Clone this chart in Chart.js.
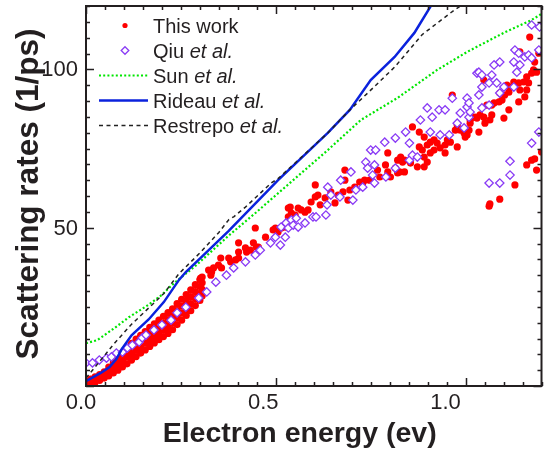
<!DOCTYPE html>
<html>
<head>
<meta charset="utf-8">
<script src="https://cdn.jsdelivr.net/npm/chart.js@4"></script>
<style>
  html, body { margin: 0; padding: 0; background: #fff; }
  canvas { display: block; }
</style>
</head>
<body>
<canvas id="rateChart" width="547" height="450"></canvas>
<script>
// axis labels
const xTickValues = [0, 0.5, 1.0];
const yTickValues = [50, 100];
const xTitle = 'Electron energy (ev)';
const yTitle = 'Scattering rates (1/ps)';

// [energy (eV), rate (1/ps)]
const thisWork = [
  // dense low-energy band
  [0.000, 0.5], [0.000, 1.5],
  [0.012, 0.8], [0.012, 2.2],
  [0.024, 1.2], [0.024, 2.9],
  [0.036, 1.8], [0.036, 3.6],
  [0.048, 2.5], [0.048, 4.5],
  [0.060, 3.2], [0.060, 4.6], [0.060, 6.0],
  [0.072, 4.1], [0.072, 5.6], [0.072, 7.3],
  [0.084, 5.0], [0.084, 6.8], [0.084, 8.6],
  [0.096, 6.0], [0.096, 8.0], [0.096, 10.0],
  [0.108, 7.0], [0.108, 9.1], [0.108, 11.2],
  [0.120, 8.2], [0.120, 10.2], [0.120, 12.2], [0.120, 13.5],
  [0.132, 9.3], [0.132, 11.3], [0.132, 13.3], [0.132, 14.8],
  [0.144, 10.4], [0.144, 12.4], [0.144, 14.4], [0.144, 16.0],
  [0.156, 11.4], [0.156, 13.5], [0.156, 15.5], [0.156, 17.2],
  [0.168, 12.5], [0.168, 14.6], [0.168, 16.6], [0.168, 18.5],
  [0.180, 13.6], [0.180, 15.6], [0.180, 17.6], [0.180, 19.6],
  [0.192, 14.6], [0.192, 16.6], [0.192, 18.6], [0.192, 20.8],
  [0.204, 15.6], [0.204, 17.7], [0.204, 19.8], [0.204, 22.0],
  [0.216, 16.6], [0.216, 18.8], [0.216, 21.0], [0.216, 23.2],
  [0.228, 17.8], [0.228, 20.0], [0.228, 22.2], [0.228, 24.4],
  [0.240, 19.4], [0.240, 21.6], [0.240, 23.8], [0.240, 26.0],
  [0.252, 20.8], [0.252, 23.0], [0.252, 25.2], [0.252, 27.4],
  [0.264, 22.3], [0.264, 24.5], [0.264, 26.7], [0.264, 28.9],
  [0.276, 23.8], [0.276, 26.0], [0.276, 28.2], [0.276, 30.4],
  [0.288, 25.4], [0.288, 27.6], [0.288, 29.8], [0.288, 32.0],
  [0.300, 27.0], [0.300, 29.2], [0.300, 31.4], [0.300, 33.6],
  [0.306, 28.4], [0.306, 30.5], [0.306, 32.6], [0.306, 34.4],
  // scattered points
  [0.302, 34.1], [0.323, 36.6], [0.331, 36.0], [0.329, 35.0], [0.336, 37.3],
  [0.355, 40.4], [0.349, 38.2], [0.357, 37.3], [0.376, 40.4], [0.381, 39.2],
  [0.394, 39.8], [0.402, 40.4], [0.402, 42.3], [0.402, 45.2], [0.420, 43.6],
  [0.423, 42.3], [0.433, 42.9], [0.441, 45.2], [0.446, 49.9], [0.449, 43.9],
  [0.454, 43.9], [0.473, 47.0], [0.493, 49.3], [0.499, 49.9], [0.506, 48.6],
  [0.514, 49.9], [0.525, 50.2], [0.533, 53.4], [0.533, 56.2], [0.541, 52.4],
  [0.551, 54.0], [0.559, 56.2], [0.538, 56.5], [0.541, 54.6], [0.567, 55.6],
  [0.577, 54.9], [0.585, 55.6], [0.593, 58.1], [0.604, 59.7], [0.604, 63.5],
  [0.611, 60.3], [0.617, 57.2], [0.630, 59.4], [0.645, 61.3], [0.656, 57.8],
  [0.664, 60.3], [0.677, 61.3], [0.682, 65.0], [0.682, 68.2], [0.690, 58.7],
  [0.695, 61.9], [0.708, 62.8], [0.721, 64.4], [0.729, 64.1], [0.734, 65.0],
  [0.747, 65.0], [0.768, 68.2], [0.774, 66.0], [0.789, 69.8], [0.795, 73.6],
  [0.795, 67.6], [0.802, 66.0], [0.815, 68.8], [0.821, 71.3], [0.826, 67.6],
  [0.839, 67.6], [0.839, 71.3], [0.829, 72.3], [0.834, 70.7], [0.821, 67.3],
  [0.855, 70.4], [0.860, 81.8], [0.873, 69.2], [0.878, 80.2], [0.878, 75.5],
  [0.886, 74.5], [0.891, 78.6], [0.891, 72.3], [0.891, 69.2], [0.899, 76.1],
  [0.899, 70.7], [0.907, 77.0], [0.907, 73.6], [0.917, 77.7], [0.917, 74.5],
  [0.925, 76.7], [0.933, 75.2], [0.946, 76.1], [0.946, 73.6], [0.952, 77.7],
  [0.960, 77.0], [0.965, 91.9], [0.973, 80.8], [0.978, 75.5], [0.978, 82.4],
  [0.986, 80.8], [0.996, 79.9], [0.999, 78.6], [1.009, 80.8], [1.012, 83.0],
  [1.017, 84.9], [1.025, 84.9], [1.004, 80.8], [1.004, 79.3], [1.012, 84.0],
  [1.030, 84.6], [1.035, 80.2], [1.038, 85.6], [1.048, 84.9], [1.048, 96.6],
  [1.051, 83.0], [1.056, 88.7], [1.064, 84.0], [1.069, 88.7], [1.069, 85.6],
  [1.075, 89.4], [1.088, 89.7], [1.090, 92.5], [1.096, 90.3], [1.101, 84.6],
  [1.103, 91.9], [1.109, 95.0], [1.114, 92.8], [1.114, 87.2], [1.117, 94.4],
  [1.127, 96.0], [1.140, 95.7], [1.140, 89.7], [1.143, 93.5], [1.143, 105.5],
  [1.153, 96.0], [1.156, 91.3], [1.161, 97.6], [1.161, 93.5], [1.166, 95.7],
  [1.169, 110.2], [1.174, 98.8], [1.179, 99.8], [1.182, 102.3], [1.187, 99.1],
  [1.193, 105.1],
  [1.161, 69.8], [1.174, 71.3], [1.182, 71.7], [1.187, 68.2], [1.200, 73.9],
  [1.130, 63.5], [1.090, 59.0], [1.064, 57.5], [1.062, 56.8]
];

const qiu = [
  [0.000, 7.3], [0.017, 7.3], [0.035, 8.2], [0.054, 8.8], [0.067, 9.2],
  [0.080, 10.4], [0.096, 10.7], [0.109, 12.0], [0.122, 12.9], [0.140, 13.9],
  [0.148, 15.2], [0.158, 16.1], [0.179, 17.7], [0.200, 19.3], [0.224, 20.8],
  [0.240, 23.1], [0.263, 24.9], [0.297, 27.8], [0.318, 29.7], [0.342, 32.8],
  [0.370, 35.0], [0.389, 37.3], [0.420, 39.2], [0.446, 41.4], [0.459, 42.9],
  [0.486, 45.2], [0.499, 47.0], [0.512, 44.5], [0.514, 50.2], [0.525, 47.0],
  [0.527, 51.5], [0.533, 49.9], [0.541, 52.4], [0.546, 50.8], [0.554, 53.0],
  [0.559, 50.2], [0.577, 51.5], [0.598, 53.4], [0.606, 53.4], [0.632, 54.0],
  [0.635, 57.2], [0.637, 62.8], [0.645, 60.3], [0.669, 59.7], [0.671, 65.0],
  [0.698, 67.6], [0.703, 58.7], [0.711, 61.9], [0.729, 62.8], [0.737, 70.7],
  [0.742, 68.8], [0.750, 74.5], [0.755, 66.6], [0.760, 64.1], [0.760, 69.8],
  [0.763, 74.5], [0.790, 66.0], [0.787, 77.0], [0.815, 68.8], [0.815, 78.3],
  [0.842, 80.2], [0.852, 76.7], [0.852, 71.3], [0.860, 72.9], [0.873, 72.3],
  [0.881, 84.0], [0.899, 87.8], [0.912, 84.9], [0.907, 80.2], [0.930, 87.2],
  [0.946, 87.2], [0.933, 79.3], [0.957, 79.3], [0.965, 90.9], [0.986, 86.2],
  [1.004, 90.9], [1.004, 88.1], [1.009, 84.9], [0.978, 83.0], [0.996, 81.5],
  [1.030, 98.8], [1.035, 91.9], [1.009, 89.4], [1.012, 86.5], [1.043, 87.8],
  [1.062, 88.7], [1.090, 92.5], [1.043, 94.4], [1.101, 94.4], [1.127, 94.4],
  [1.062, 95.7], [1.082, 95.7], [1.035, 99.1], [1.043, 98.2], [1.069, 98.2],
  [1.075, 101.4], [1.090, 102.3], [1.127, 102.3], [1.143, 101.4], [1.135, 99.1],
  [1.130, 106.1], [1.140, 105.1], [1.156, 103.9], [1.166, 104.5], [1.174, 103.6],
  [1.193, 106.1], [1.174, 114.0], [1.195, 113.4],
  [1.193, 80.2], [1.174, 76.7], [1.117, 71.0], [1.117, 66.6], [1.062, 64.1],
  [1.090, 64.1]
];

const sun = [
  [0.000, 13.5], [0.030, 14.5], [0.075, 18.3], [0.114, 21.8], [0.164, 25.6],
  [0.200, 28.8], [0.232, 32.5], [0.289, 38.0], [0.376, 47.5], [0.450, 55.0],
  [0.541, 64.5], [0.637, 74.5], [0.724, 84.0], [0.821, 91.0], [0.925, 99.8],
  [1.004, 105.5], [1.100, 111.5], [1.174, 115.6], [1.200, 117.5]
];

const rideau = [
  [0.000, 1.5], [0.040, 4.2], [0.062, 6.0], [0.080, 8.5], [0.095, 11.8],
  [0.120, 16.0], [0.165, 21.0], [0.205, 26.5], [0.245, 33.5], [0.263, 36.0],
  [0.376, 49.0], [0.506, 65.0], [0.637, 79.9], [0.695, 87.2], [0.750, 96.6],
  [0.813, 103.9], [0.865, 111.5], [0.907, 119.7], [0.930, 125.0]
];

const restrepo = [
  [0.000, 2.5], [0.007, 3.5], [0.075, 13.5], [0.120, 19.5], [0.164, 24.5],
  [0.205, 29.2], [0.245, 35.5], [0.300, 42.0], [0.350, 48.5], [0.376, 52.5],
  [0.390, 53.5], [0.420, 56.5], [0.488, 64.1], [0.506, 65.5], [0.637, 79.9],
  [0.695, 87.2], [0.742, 92.5], [0.813, 100.7], [0.886, 111.0], [0.970, 118.7],
  [1.000, 121.0]
];

const inkColor = '#231f20';
const fontFamily = '"Liberation Sans", Arial, Helvetica, sans-serif';

// bottom labels are laid out on a frame about 4% narrower than the plot box
const xTextScale = 0.96;
const xTextShift = -1.5;

const toPoints = pairs => pairs.map(p => ({ x: p[0], y: p[1] }));

// box round the plot with inward ticks on every side
const frameTicks = {
  id: 'frameTicks',
  afterDatasetsDraw(chart) {
    const { ctx, chartArea: a, scales: { x, y } } = chart;
    ctx.save();
    ctx.strokeStyle = inkColor;
    ctx.lineWidth = 1.5;
    ctx.beginPath();
    for (let i = 0; i <= 24; i++) {
      const px = Math.round(x.getPixelForValue(i * 0.05)) + 0.5;
      const len = i % 10 === 0 ? 8 : 4;
      ctx.moveTo(px, a.bottom); ctx.lineTo(px, a.bottom - len);
      ctx.moveTo(px, a.top); ctx.lineTo(px, a.top + len);
    }
    for (let i = 0; i <= 24; i++) {
      const py = Math.round(y.getPixelForValue(i * 5)) + 0.5;
      const len = i % 10 === 0 ? 8 : 4;
      ctx.moveTo(a.left, py); ctx.lineTo(a.left + len, py);
      ctx.moveTo(a.right, py); ctx.lineTo(a.right - len, py);
    }
    ctx.stroke();
    ctx.lineWidth = 2;
    ctx.strokeRect(a.left, a.top, a.right - a.left, a.bottom - a.top);
    ctx.restore();
  }
};

// tick labels and axis titles
const axisText = {
  id: 'axisText',
  afterDraw(chart) {
    const { ctx, chartArea: a, scales: { x, y } } = chart;
    const tx = px => xTextShift + xTextScale * px;
    ctx.save();
    ctx.fillStyle = inkColor;
    ctx.textBaseline = 'alphabetic';

    ctx.font = '22px ' + fontFamily;
    ctx.textAlign = 'center';
    xTickValues.forEach(v => ctx.fillText(v.toFixed(1), tx(x.getPixelForValue(v)), 409));
    ctx.textAlign = 'right';
    yTickValues.forEach(v => ctx.fillText(String(v), 78, y.getPixelForValue(v) + 7));

    ctx.font = 'bold 28.5px ' + fontFamily;
    ctx.textAlign = 'center';
    ctx.fillText(xTitle, tx((a.left + a.right) / 2), 442);

    ctx.translate(37.5, (a.top + a.bottom) / 2 - 2);
    ctx.rotate(-Math.PI / 2);
    ctx.font = 'bold 31.5px ' + fontFamily;
    ctx.fillText(yTitle, 0, 0);
    ctx.restore();
  }
};

// legend in the upper left, "et al." set in italics
const legendBox = {
  id: 'legendBox',
  afterDraw(chart) {
    const ctx = chart.ctx;
    const textX = 153, firstBaseline = 33, rowStep = 25;
    ctx.save();
    chart.data.datasets.forEach((ds, i) => {
      const base = firstBaseline + i * rowStep;
      const cy = base - 7.5;
      if (ds.showLine) {
        ctx.strokeStyle = ds.borderColor;
        ctx.lineWidth = ds.borderWidth;
        ctx.setLineDash(ds.borderDash || []);
        ctx.beginPath();
        ctx.moveTo(99, cy);
        ctx.lineTo(148, cy);
        ctx.stroke();
        ctx.setLineDash([]);
      } else if (ds.pointStyle === 'rectRot') {
        ctx.strokeStyle = ds.pointBorderColor;
        ctx.fillStyle = ds.pointBackgroundColor;
        ctx.lineWidth = ds.pointBorderWidth;
        ctx.beginPath();
        ctx.moveTo(125, cy - 3.8); ctx.lineTo(128.8, cy);
        ctx.lineTo(125, cy + 3.8); ctx.lineTo(121.2, cy);
        ctx.closePath();
        ctx.fill();
        ctx.stroke();
      } else {
        ctx.fillStyle = ds.pointBackgroundColor;
        ctx.beginPath();
        ctx.arc(125, cy, 2.6, 0, Math.PI * 2);
        ctx.fill();
      }
      ctx.fillStyle = inkColor;
      ctx.textBaseline = 'alphabetic';
      ctx.textAlign = 'left';
      ctx.font = '20px ' + fontFamily;
      ctx.fillText(ds.label, textX, base);
      if (ds.etAl) {
        const w = ctx.measureText(ds.label + ' ').width;
        ctx.font = 'italic 20px ' + fontFamily;
        ctx.fillText('et al.', textX + w, base);
      }
    });
    ctx.restore();
  }
};

new Chart(document.getElementById('rateChart'), {
  type: 'scatter',
  data: {
    datasets: [
      {
        label: 'This work', data: toPoints(thisWork), order: 4,
        pointRadius: 3.6, pointBackgroundColor: '#ff0000', pointBorderColor: '#ff0000', pointBorderWidth: 0
      },
      {
        label: 'Qiu', etAl: true, data: toPoints(qiu), order: 3,
        pointStyle: 'rectRot', pointRadius: 4.2, pointBackgroundColor: '#ffffff',
        pointBorderColor: '#8a3cf5', pointBorderWidth: 1.3
      },
      {
        label: 'Sun', etAl: true, data: toPoints(sun), order: 2, showLine: true,
        pointRadius: 0, borderColor: '#00e600', borderWidth: 2.2, borderDash: [2, 2.2]
      },
      {
        label: 'Rideau', etAl: true, data: toPoints(rideau), order: 1, showLine: true,
        pointRadius: 0, borderColor: '#0b22dd', borderWidth: 2.5
      },
      {
        label: 'Restrepo', etAl: true, data: toPoints(restrepo), order: 0, showLine: true,
        pointRadius: 0, borderColor: '#222222', borderWidth: 1.5, borderDash: [4, 3.5]
      }
    ]
  },
  options: {
    responsive: false,
    animation: false,
    devicePixelRatio: 1,
    layout: { padding: { left: 0, right: 2, top: 6, bottom: 0 } },
    plugins: { legend: { display: false }, tooltip: { enabled: false } },
    scales: {
      x: {
        type: 'linear', min: 0, max: 1.2,
        grid: { display: false, drawTicks: false },
        border: { display: false },
        ticks: { display: false },
        afterFit: s => { s.height = 64; s.paddingLeft = 0; s.paddingRight = 0; }
      },
      y: {
        type: 'linear', min: 0, max: 120,
        grid: { display: false, drawTicks: false },
        border: { display: false },
        ticks: { display: false },
        afterFit: s => { s.width = 86; s.paddingTop = 0; s.paddingBottom = 0; }
      }
    }
  },
  plugins: [frameTicks, axisText, legendBox]
});
</script>
</body>
</html>
